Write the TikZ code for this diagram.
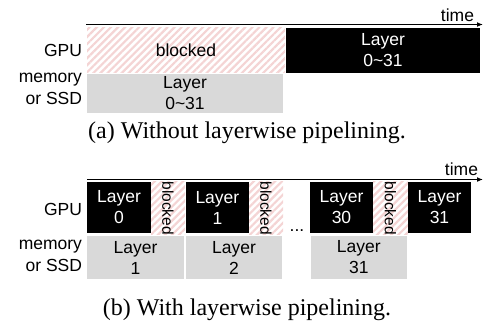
\documentclass[tikz,border=0pt]{standalone}
\usepackage{fontspec}
\setmainfont{Liberation Serif}
\setsansfont{Liberation Sans}
\usetikzlibrary{arrows.meta,patterns.meta}
\definecolor{slotgray}{RGB}{217,217,217}
\definecolor{hatchpink}{RGB}{244,212,212}
\begin{document}
\begin{tikzpicture}[x=1pt,y=-1pt,
  every node/.style={font=\sffamily\fontsize{17.5}{21}\selectfont,inner sep=0pt,outer sep=0pt},
  gpubox/.style={fill=black,text=white,align=center},
  membox/.style={fill=slotgray,align=center},
  blockbox/.style={pattern={Lines[angle=45,distance=5pt,line width=2.2pt]},pattern color=hatchpink},
  vtext/.style={rotate=-90,font=\sffamily\fontsize{15.5}{18}\selectfont},
  rowlabel/.style={anchor=east,align=right,font=\sffamily\fontsize{17.5}{22}\selectfont},
  timeline/.style={line width=1.3pt,-{Latex[length=6pt,width=5pt]}},
  caption/.style={font=\rmfamily\fontsize{24}{28}\selectfont}]
\useasboundingbox (0,0) rectangle (483,322);

% ---- (a) without layerwise pipelining ----
\coordinate (a0) at (86,24.5);
\coordinate (a1) at (483,24.5);
\draw[timeline] (a0) -- (a1);
\node[anchor=east] (atime) at (474,15) {time};

\node[rowlabel] (agpu) at (82,50) {GPU};
\node[rowlabel] (amem) at (82,89) {memory\\or SSD};

\node[blockbox,minimum width=198pt,minimum height=44.7pt] (ablk) at (186,50.3) {};
\node (ablkt) at (ablk) {blocked};
\node[gpubox,minimum width=194pt,minimum height=44.7pt] (agall) at (383,50.3) {Layer\\0\textasciitilde31};
\node[membox,minimum width=196pt,minimum height=38.7pt] (amall) at (185,93.3) {Layer\\0\textasciitilde31};

\node[caption] (capa) at (247,133) {(a) Without layerwise pipelining.};

% ---- (b) with layerwise pipelining ----
\coordinate (b0) at (87,179.5);
\coordinate (b1) at (483,179.5);
\draw[timeline] (b0) -- (b1);
\node[anchor=east] (btime) at (478,169) {time};

\node[rowlabel] (bgpu) at (82,209) {GPU};
\node[rowlabel] (bmem) at (82,256) {memory\\or SSD};

% GPU row
\node[gpubox,minimum width=64pt,minimum height=51.5pt] (g0) at (119,207.5) {Layer\\0};
\node[blockbox,minimum width=34pt,minimum height=53pt] (k0) at (168,208.2) {};
\node[vtext] (k0t) at (k0) {blocked};
\node[gpubox,minimum width=63.3pt,minimum height=51.5pt] (g1) at (217.4,207.5) {Layer\\1};
\node[blockbox,minimum width=34pt,minimum height=53pt] (k1) at (266,208.2) {};
\node[vtext] (k1t) at (k1) {blocked};
\node (dots) at (297,231) {...};
\node[gpubox,minimum width=63pt,minimum height=51.5pt] (g30) at (341.5,207.5) {Layer\\30};
\node[blockbox,minimum width=35pt,minimum height=53pt] (k30) at (390.5,208.2) {};
\node[vtext] (k30t) at (k30) {blocked};
\node[gpubox,minimum width=63pt,minimum height=51.5pt] (g31) at (439.5,207.5) {Layer\\31};

% memory / SSD row
\node[membox,minimum width=97pt,minimum height=43pt] (m1) at (135.5,257.5) {Layer\\1};
\node[membox,minimum width=96pt,minimum height=43pt] (m2) at (234,257.5) {Layer\\2};
\node[membox,minimum width=95.7pt,minimum height=43pt] (m31) at (358.8,257.5) {Layer\\31};

\node[caption] (capb) at (247,310) {(b) With layerwise pipelining.};
\end{tikzpicture}
\end{document}
